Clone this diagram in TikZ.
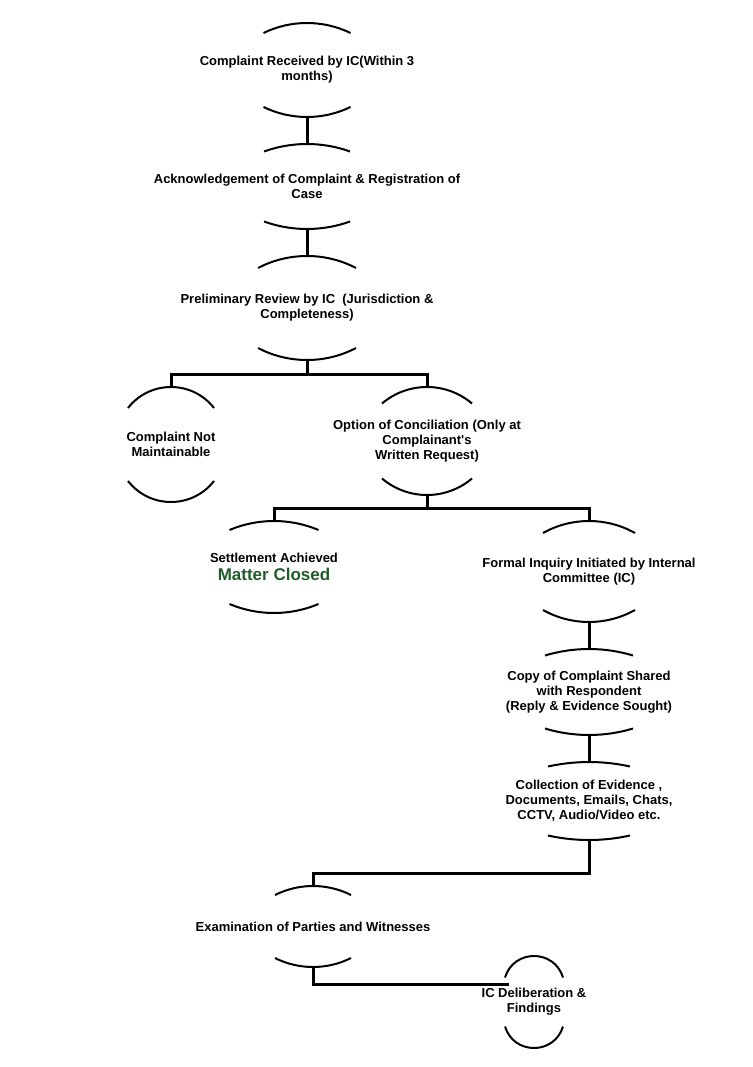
\documentclass[tikz,border=0pt]{standalone}
\usepackage{fontspec}
\setmainfont{Liberation Sans}
\usetikzlibrary{calc}
\definecolor{closedgreen}{RGB}{32,92,42}
\tikzset{
  stage/.style={align=center,font=\bfseries\fontsize{13}{15}\selectfont,inner sep=0pt},
  rim/.style={line width=2pt},
  link/.style={line width=3pt},
}
% top and bottom rims of a stage: node, half width, half height, sag
\newcommand{\rims}[4]{%
  \pgfmathsetmacro\rimdx{2/3*(#2-#4*#4/#2)}
  \pgfmathsetmacro\rimdy{4/3*#4}
  \draw[rim] ($(#1)+(-#2,-#3+#4)$) .. controls +(\rimdx,-\rimdy) and +(-\rimdx,-\rimdy) .. ($(#1)+(#2,-#3+#4)$);
  \draw[rim] ($(#1)+(-#2,#3-#4)$) .. controls +(\rimdx,\rimdy) and +(-\rimdx,\rimdy) .. ($(#1)+(#2,#3-#4)$);
  \coordinate (#1-t) at ($(#1)+(0,-#3)$);
  \coordinate (#1-b) at ($(#1)+(0,#3)$);
}
\begin{document}
\begin{tikzpicture}[x=1pt,y=-1pt]
\useasboundingbox (0,0) rectangle (752,1067);
\node[stage] (recv) at (307,70) {Complaint Received by IC(Within 3\\months)};
\node[stage] (ack) at (307,186.5) {Acknowledgement of Complaint \& Registration of\\Case};
\node[stage] (prelim) at (307,308) {Preliminary Review by IC\ \ (Jurisdiction \&\\Completeness)};
\node[stage] (notmaint) at (171,444.5) {Complaint Not\\Maintainable};
\node[stage] (concil) at (427,441) {Option of Conciliation (Only at\\Complainant\textquotesingle s\\Written Request)};
\node[stage] (settle) at (274,567) {Settlement Achieved\\[3pt]{\fontsize{17}{19}\selectfont\color{closedgreen}Matter Closed}};
\node[stage] (formal) at (589,571.5) {Formal Inquiry Initiated by Internal\\Committee (IC)};
\node[stage] (copy) at (589,692) {Copy of Complaint Shared\\with Respondent\\(Reply \& Evidence Sought)};
\node[stage] (collect) at (589,801) {Collection of Evidence ,\\Documents, Emails, Chats,\\CCTV, Audio/Video etc.};
\node[stage] (exam) at (313,926.5) {Examination of Parties and Witnesses};
\node[stage] (delib) at (534,1002) {IC Deliberation \&\\Findings};
%%%%
\rims{recv}{43.5}{47}{10}
\rims{ack}{43}{42.5}{7.5}
\rims{prelim}{49}{52}{12}
\rims{notmaint}{43}{57.5}{21}
\rims{concil}{45}{54}{16.5}
\rims{settle}{44.5}{46}{9}
\rims{formal}{46}{50.5}{12}
\rims{copy}{44}{43}{6.5}
\rims{collect}{41}{39}{4.5}
\rims{exam}{38}{40.5}{9}
\rims{delib}{29}{46}{21.5}
\coordinate (delib-in) at ($(delib)+(-25,-18)$);
%%%%
\draw[link] (recv-b) -- (ack-t);
\draw[link] (ack-b) -- (prelim-t);
\draw[link] (prelim-b) -- ++(0,14);
\draw[link] (notmaint-t) |- ($(prelim-b)+(0,14)$) -| (concil-t);
\draw[link] (concil-b) -- ++(0,13);
\draw[link] (settle-t) |- ($(concil-b)+(0,13)$) -| (formal-t);
\draw[link] (formal-b) -- (copy-t);
\draw[link] (copy-b) -- (collect-t);
\draw[link] (collect-b) |- ($(exam-t)+(0,-13)$) -- (exam-t);
\draw[link] (exam-b) |- (delib-in);
\end{tikzpicture}
\end{document}
